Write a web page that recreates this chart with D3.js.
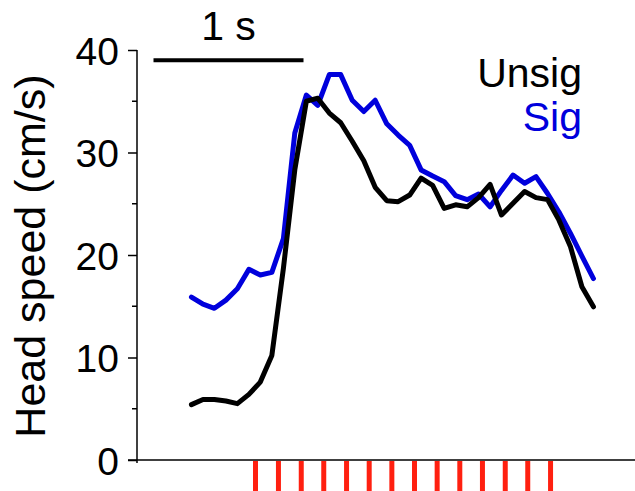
<!DOCTYPE html>
<html>
<head>
<meta charset="utf-8">
<script src="https://cdn.jsdelivr.net/npm/d3@7"></script>
<style>
  body { margin: 0; background: #fff; }
  text { font-family: "Liberation Sans", Arial, sans-serif; }
</style>
</head>
<body>
<script>
const width = 635
const height = 491

// sample times (s), 0 = first stimulus
const times = [-0.427, -0.350, -0.274, -0.197, -0.121, -0.044, 0.032, 0.109, 0.186, 0.262,
  0.339, 0.415, 0.492, 0.568, 0.645, 0.722, 0.798, 0.875, 0.951, 1.028,
  1.104, 1.181, 1.258, 1.334, 1.411, 1.487, 1.564, 1.640, 1.717, 1.794,
  1.870, 1.947, 2.023, 2.100, 2.176, 2.253]

const unsig = [5.4, 5.9, 5.9, 5.75, 5.5, 6.4, 7.6, 10.2, 18.7, 28.3,
  35.0, 35.3, 33.85, 32.9, 31.1, 29.2, 26.6, 25.3, 25.2, 25.85,
  27.5, 26.8, 24.55, 24.9, 24.7, 25.6, 26.9, 23.9, 25.05, 26.2,
  25.6, 25.4, 23.4, 20.8, 16.9, 14.95]

const sig = [15.9, 15.2, 14.8, 15.6, 16.7, 18.6, 18.05, 18.3, 21.6, 31.9,
  35.6, 34.6, 37.6, 37.6, 35.1, 34.0, 35.1, 32.8, 31.7, 30.7,
  28.3, 27.7, 27.15, 25.8, 25.4, 25.95, 24.7, 26.3, 27.8, 27.0,
  27.65, 26.0, 24.2, 22.1, 19.9, 17.7]

// stimulus times (s)
const stimTimes = [0, 0.153, 0.305, 0.455, 0.607, 0.758, 0.909, 1.06, 1.211, 1.362, 1.513, 1.665, 1.815, 1.967]

const yTicks = [0, 10, 20, 30, 40]
const yMinorTicks = [5, 15, 25, 35]

const series = [
  {name: "Unsig", values: unsig, color: "#000000"},
  {name: "Sig", values: sig, color: "#0000dc"}
]

const x = d3.scaleLinear().domain([-0.79, 2.53]).range([137, 635])
const y = d3.scaleLinear().domain([0, 40]).range([460, 50])

const svg = d3.select("body").append("svg")
  .attr("width", width)
  .attr("height", height)
  .attr("viewBox", [0, 0, width, height])

// y axis
const yAxis = svg.append("g")
  .attr("transform", `translate(${x.range()[0]},0)`)
  .call(d3.axisLeft(y).tickValues(yTicks).tickSize(9).tickPadding(9).tickSizeOuter(0))
yAxis.select(".domain").remove()
yAxis.selectAll(".tick line").attr("stroke-width", 1.5)
yAxis.selectAll(".tick text")
  .attr("font-size", 39)
  .attr("font-family", "Liberation Sans, Arial, sans-serif")
  .attr("fill", "#000")
  .attr("dy", "0.36em")
yAxis.append("g")
  .selectAll("line")
  .data(yMinorTicks)
  .join("line")
    .attr("x1", -5).attr("x2", 0)
    .attr("y1", d => y(d)).attr("y2", d => y(d))
    .attr("stroke", "#000").attr("stroke-width", 1.5)
yAxis.append("line")
  .attr("x1", 0).attr("x2", 0)
  .attr("y1", y(40)).attr("y2", y(0) + 3)
  .attr("stroke", "#000").attr("stroke-width", 1.5)

// x axis line
svg.append("line")
  .attr("x1", x.range()[0] - 9).attr("x2", width)
  .attr("y1", y(0)).attr("y2", y(0))
  .attr("stroke", "#000").attr("stroke-width", 1.5)

svg.append("text")
  .attr("transform", `translate(45,${(y(0) + y(40)) / 2 + 1}) rotate(-90)`)
  .attr("text-anchor", "middle")
  .attr("font-size", 43)
  .text("Head speed (cm/s)")

// stimulus markers
svg.append("g")
  .selectAll("line")
  .data(stimTimes)
  .join("line")
    .attr("x1", d => x(d)).attr("x2", d => x(d))
    .attr("y1", y(0) + 1).attr("y2", height)
    .attr("stroke", "#ff2010")
    .attr("stroke-width", 5)

// lines
const line = d3.line()
  .x((d, i) => x(times[i]))
  .y(d => y(d))

svg.append("g")
  .selectAll("path")
  .data(series.slice().reverse())
  .join("path")
    .attr("d", d => line(d.values))
    .attr("fill", "none")
    .attr("stroke", d => d.color)
    .attr("stroke-width", 5)
    .attr("stroke-linejoin", "round")
    .attr("stroke-linecap", "round")

// legend
svg.append("g")
  .selectAll("text")
  .data(series)
  .join("text")
    .attr("x", 582)
    .attr("y", (d, i) => 87 + i * 44)
    .attr("text-anchor", "end")
    .attr("font-size", 41)
    .attr("fill", d => d.color)
    .text(d => d.name)

// scale bar
const bar = {start: -0.68, length: 1, level: 39}
svg.append("line")
  .attr("x1", x(bar.start)).attr("x2", x(bar.start + bar.length))
  .attr("y1", y(bar.level)).attr("y2", y(bar.level))
  .attr("stroke", "#000").attr("stroke-width", 4)
svg.append("text")
  .attr("x", x(bar.start + bar.length / 2))
  .attr("y", 40)
  .attr("text-anchor", "middle")
  .attr("font-size", 41)
  .text("1 s")
</script>
</body>
</html>
